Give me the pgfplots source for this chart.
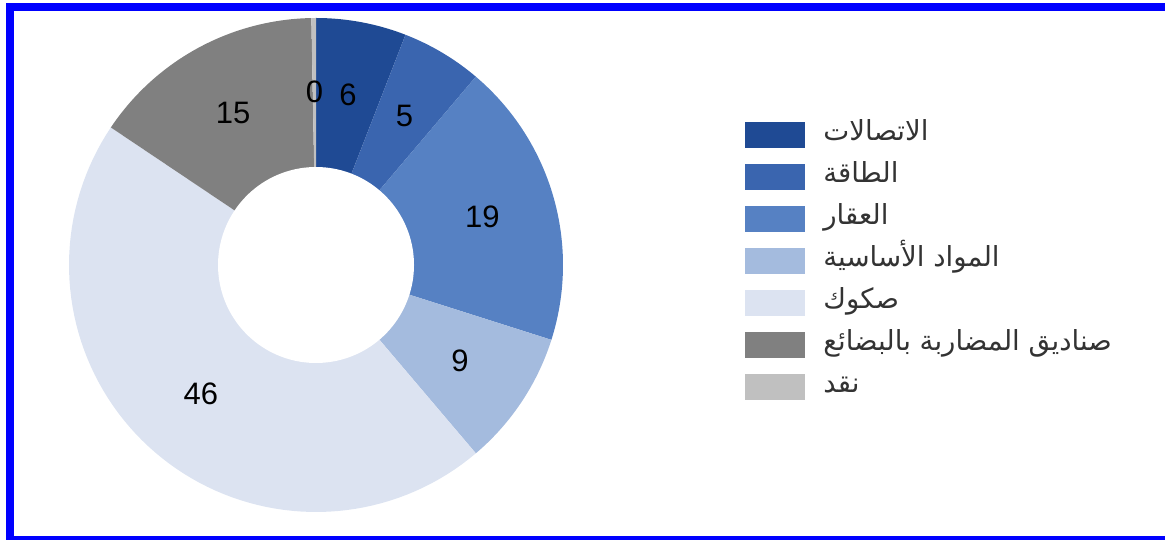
\documentclass[border=0pt]{standalone}
\usepackage{pgfplots}
\usepackage{pgfplotstable}
\pgfplotsset{compat=1.18}
\usepackage{fontspec}
\setmainfont{Liberation Sans}
\newfontfamily\arabicfont[Script=Arabic]{DejaVu Sans}
\TeXXeTstate=1

\definecolor{c0}{RGB}{31,74,148}
\definecolor{c1}{RGB}{58,101,175}
\definecolor{c2}{RGB}{86,129,195}
\definecolor{c3}{RGB}{164,187,222}
\definecolor{c4}{RGB}{220,227,241}
\definecolor{c5}{RGB}{128,128,128}
\definecolor{c6}{RGB}{192,192,192}
\definecolor{frameblue}{RGB}{0,0,255}

% share of each category (percent), clockwise from 12 o'clock
\pgfplotstableread{
v
5.9
5.3
18.7
8.9
45.6
15.3
0.3
}\slices

\newcommand\lab[1]{\arabicfont\beginR\ifcase#1 الاتصالات\or الطاقة\or العقار\or المواد الأساسية\or صكوك\or صناديق المضاربة بالبضائع\or نقد\fi\endR}

\def\cum{0}
\pgfplotsforeachungrouped \i in {0,...,6}{%
  \pgfplotstablegetelem{\i}{v}\of\slices
  \let\val\pgfplotsretval
  \pgfmathsetmacro\aHi{90-3.6*\cum}%
  \pgfmathsetmacro\newcum{\cum+\val}%
  \pgfmathsetmacro\aLo{90-3.6*\newcum}%
  \pgfmathsetmacro\aMid{(\aHi+\aLo)/2}%
  \expandafter\xdef\csname hi\i\endcsname{\aHi}%
  \expandafter\xdef\csname lo\i\endcsname{\aLo}%
  \expandafter\xdef\csname mid\i\endcsname{\aMid}%
  \expandafter\xdef\csname val\i\endcsname{\val}%
  \xdef\cum{\newcum}%
}

\begin{document}
\begin{tikzpicture}
\begin{axis}[
  width=582.5pt, height=270pt, scale only axis,
  xmin=0, xmax=1165, ymin=0, ymax=540,
  hide axis, clip=false,
  legend image code/.code={\fill[#1] (0pt,-6.5pt) rectangle (30pt,6.5pt);},
  legend cell align=left,
  legend style={draw=none, fill=none, inner sep=0pt,
    at={(axis cs:745,418)}, anchor=north west,
    row sep=8pt, column sep=9pt,
    nodes={inner sep=0pt, text height=9pt, text depth=4pt, font=\fontsize{13.8}{15}\selectfont, text=black!80}},
]
% picture extent
\path (axis cs:0,0) rectangle (axis cs:1165,540);
% frame
\fill[frameblue] (axis cs:6,0) rectangle (axis cs:14,537);
\fill[frameblue] (axis cs:6,529) rectangle (axis cs:1165,537);
\fill[frameblue] (axis cs:6,0) rectangle (axis cs:1165,4);

\pgfplotsinvokeforeach{0,...,6}{
  \addplot[fill=c#1, draw=none, domain=\csname lo#1\endcsname:\csname hi#1\endcsname, samples=80]
    ({316+247*cos(x)},{275+247*sin(x)}) -- (axis cs:316,275) -- cycle;
  \addlegendentry{\lab{#1}}
}
\addplot[fill=white, draw=none, domain=0:360, samples=150, forget plot]
  ({316+98*cos(x)},{275+98*sin(x)}) -- cycle;

\pgfplotsinvokeforeach{0,...,6}{
  \node[font=\fontsize{15.5}{17}\selectfont, text=black]
    at (axis cs:{316+173*cos(\csname mid#1\endcsname)},{275+173*sin(\csname mid#1\endcsname)})
    {\pgfmathprintnumber[fixed,precision=0,assume math mode=true]{\csname val#1\endcsname}};
}
\end{axis}
\end{tikzpicture}
\end{document}
